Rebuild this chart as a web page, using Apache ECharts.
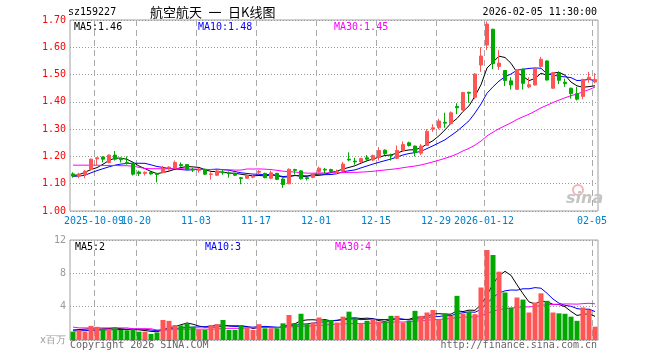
<!DOCTYPE html>
<html>
<head>
<meta charset="utf-8">
<script src="https://cdn.jsdelivr.net/npm/echarts@6/dist/echarts.min.js"></script>
<style>
html,body{margin:0;padding:0;background:#fff;}
#c{width:660px;height:360px;}
</style>
</head>
<body>
<div id="c"></div>
<script>
// ---------- data ----------
const categories = [
'2025-09-25','2025-09-26','2025-09-29','2025-09-30',
'2025-10-09','2025-10-10','2025-10-13','2025-10-14','2025-10-15','2025-10-16','2025-10-17',
'2025-10-20','2025-10-21','2025-10-22','2025-10-23','2025-10-24',
'2025-10-27','2025-10-28','2025-10-29','2025-10-30','2025-10-31',
'2025-11-03','2025-11-04','2025-11-05','2025-11-06','2025-11-07',
'2025-11-10','2025-11-11','2025-11-12','2025-11-13','2025-11-14',
'2025-11-17','2025-11-18','2025-11-19','2025-11-20','2025-11-21',
'2025-11-24','2025-11-25','2025-11-26','2025-11-27','2025-11-28',
'2025-12-01','2025-12-02','2025-12-03','2025-12-04','2025-12-05',
'2025-12-08','2025-12-09','2025-12-10','2025-12-11','2025-12-12',
'2025-12-15','2025-12-16','2025-12-17','2025-12-18','2025-12-19',
'2025-12-22','2025-12-23','2025-12-24','2025-12-25','2025-12-26',
'2025-12-29','2025-12-30','2025-12-31',
'2026-01-05','2026-01-06','2026-01-07','2026-01-08','2026-01-09',
'2026-01-12','2026-01-13','2026-01-14','2026-01-15','2026-01-16',
'2026-01-19','2026-01-20','2026-01-21','2026-01-22','2026-01-23',
'2026-01-26','2026-01-27','2026-01-28','2026-01-29','2026-01-30',
'2026-02-02','2026-02-03','2026-02-04','2026-02-05'
];
const tickDates  = ['2025-10-09','2025-10-20','2025-11-03','2025-11-17','2025-12-01','2025-12-15','2025-12-29','2026-01-12','2026-02-05'];
const tickLabels = ['2025-10-09','10-20','11-03','11-17','12-01','12-15','12-29','2026-01-12','02-05'];

const openVals = [
1.136,1.129,1.134,1.152,1.191,1.198,1.178,1.205,1.193,1.178,
1.175,1.143,1.138,1.141,1.138,1.141,1.158,1.157,1.170,1.170,
1.152,1.149,1.153,1.134,1.131,1.143,1.140,1.138,1.122,1.120,
1.124,1.142,1.138,1.120,1.138,1.117,1.100,1.152,1.147,1.122,
1.123,1.145,1.153,1.152,1.140,1.146,1.190,1.183,1.180,1.195,
1.187,1.196,1.223,1.205,1.193,1.222,1.250,1.238,1.212,1.240,
1.300,1.305,1.325,1.320,1.383,1.370,1.435,1.417,1.535,1.608,
1.666,1.530,1.515,1.477,1.446,1.520,1.455,1.462,1.530,1.550,
1.450,1.506,1.472,1.450,1.430,1.420,1.483,1.473];
const closeVals = [
1.128,1.136,1.146,1.190,1.195,1.190,1.205,1.190,1.188,1.174,
1.135,1.137,1.142,1.136,1.134,1.157,1.161,1.178,1.166,1.153,
1.150,1.152,1.135,1.136,1.147,1.140,1.137,1.131,1.119,1.130,
1.126,1.145,1.122,1.140,1.116,1.097,1.153,1.149,1.118,1.119,
1.133,1.157,1.150,1.145,1.145,1.172,1.187,1.180,1.192,1.190,
1.203,1.222,1.210,1.203,1.222,1.244,1.240,1.214,1.238,1.292,
1.305,1.330,1.322,1.360,1.378,1.434,1.432,1.502,1.568,1.685,
1.540,1.542,1.478,1.462,1.517,1.468,1.463,1.520,1.556,1.480,
1.507,1.479,1.467,1.430,1.410,1.482,1.490,1.482];
const highVals = [
1.142,1.140,1.150,1.192,1.197,1.200,1.207,1.220,1.196,1.200,
1.178,1.148,1.145,1.143,1.140,1.165,1.164,1.185,1.178,1.172,
1.158,1.158,1.155,1.142,1.150,1.152,1.145,1.140,1.125,1.133,
1.133,1.150,1.140,1.148,1.140,1.120,1.156,1.155,1.150,1.125,
1.138,1.163,1.158,1.155,1.152,1.180,1.215,1.195,1.195,1.205,
1.207,1.234,1.226,1.210,1.240,1.255,1.254,1.240,1.245,1.300,
1.318,1.338,1.360,1.365,1.395,1.437,1.437,1.505,1.600,1.695,
1.668,1.590,1.516,1.490,1.520,1.522,1.490,1.522,1.565,1.552,
1.510,1.512,1.485,1.452,1.455,1.485,1.510,1.505];
const lowVals = [
1.122,1.120,1.120,1.148,1.168,1.178,1.175,1.185,1.178,1.170,
1.130,1.128,1.130,1.133,1.105,1.138,1.148,1.155,1.162,1.150,
1.143,1.140,1.132,1.115,1.128,1.133,1.122,1.128,1.098,1.118,
1.120,1.135,1.120,1.116,1.113,1.085,1.098,1.134,1.115,1.112,
1.120,1.140,1.138,1.142,1.135,1.144,1.182,1.170,1.176,1.180,
1.183,1.185,1.205,1.185,1.190,1.218,1.236,1.200,1.205,1.238,
1.290,1.300,1.305,1.318,1.355,1.368,1.397,1.410,1.510,1.590,
1.520,1.517,1.458,1.445,1.445,1.445,1.450,1.460,1.525,1.478,
1.448,1.465,1.455,1.412,1.405,1.410,1.470,1.468];
// volume, millions
const volumes = [
1.00,1.17,1.00,1.70,1.58,1.25,1.33,1.41,1.20,1.17,
1.30,1.00,1.00,0.73,0.90,2.40,2.30,1.80,1.75,2.00,
1.60,1.20,1.20,1.80,1.90,2.40,1.20,1.20,1.80,1.50,
1.20,1.90,1.40,1.40,1.40,2.00,3.00,2.00,3.15,1.90,
2.10,2.70,2.40,2.40,2.10,2.80,3.40,2.60,2.00,2.30,
2.50,2.20,2.20,2.90,2.90,2.10,2.30,3.50,2.90,3.30,
3.60,2.50,3.20,2.90,5.30,3.15,3.35,3.10,6.30,10.80,
10.20,8.20,5.70,3.90,5.10,4.85,3.30,4.50,5.60,4.70,
3.30,3.20,3.15,2.80,2.30,3.90,3.60,1.60];

// moving-average values at the start of the window
const ma5Lead  = [1.130,1.133,1.142,1.152];
const ma10Lead = [1.127,1.128,1.131,1.140,1.148,1.155,1.162,1.168,1.172];
const ma30Lead = [1.168,1.168,1.168,1.168,1.168,1.167,1.167,1.167,1.166,1.166,
                  1.164,1.160,1.156,1.155,1.155,1.155,1.155,1.155,1.155,1.154,
                  1.154,1.153,1.152,1.152,1.152,1.151,1.151,1.150,1.150];
const vma5Lead  = [1.20,1.25,1.30,1.35];
const vma10Lead = [1.10,1.10,1.12,1.15,1.18,1.20,1.22,1.24,1.26];
const vma30Lead = [1.55,1.45,1.45,1.45,1.45,1.45,1.45,1.45,1.45,1.45,
                   1.35,1.35,1.35,1.35,1.20,1.20,1.20,1.30,1.30,1.30,
                   1.30,1.30,1.30,1.30,1.30,1.40,1.40,1.40,1.40];

// ---------- helpers ----------
function movingAvg(vals, n, lead) {
  return vals.map((v, i) => {
    if (i < n - 1) return lead[i];
    let s = 0;
    for (let k = i - n + 1; k <= i; k++) s += vals[k];
    return s / n;
  });
}
const ma5 = movingAvg(closeVals, 5, ma5Lead);
const ma10 = movingAvg(closeVals, 10, ma10Lead);
const ma30 = movingAvg(closeVals, 30, ma30Lead);
const vma5 = movingAvg(volumes, 5, vma5Lead);
const vma10 = movingAvg(volumes, 10, vma10Lead);
const vma30 = movingAvg(volumes, 30, vma30Lead);

const RED = '#ff5555', GREEN = '#00a800';
const MONO = 'DejaVu Sans Mono';
const tickIdx = tickDates.map(d => categories.indexOf(d));

const kData = categories.map((c, i) => [openVals[i], closeVals[i], lowVals[i], highVals[i]]);
const volData = volumes.map((v, i) => ({
  value: v,
  itemStyle: { color: closeVals[i] >= openVals[i] ? RED : GREEN }
}));
const last = categories.length - 1;

const chart = echarts.init(document.getElementById('c'), null, { renderer: 'canvas' });

const dotH = { show: true, lineStyle: { color: '#999999', width: 1, type: [1, 2] } };

function maLine(name, data, color, xi, yi) {
  return { name, type: 'line', data, xAxisIndex: xi, yAxisIndex: yi, symbol: 'none',
    lineStyle: { color, width: 1 }, itemStyle: { color }, silent: true, z: 3 };
}
function txt(x, y, text, color, align, font) {
  return { type: 'text', x, y, silent: true, z: 10,
    style: { text, fill: color, font: font || ('10px "' + MONO + '"'), align: align || 'left', verticalAlign: 'middle' } };
}

const option = {
  animation: false,
  backgroundColor: '#ffffff',
  grid: [
    { left: 70, top: 20, width: 528, height: 191, show: true, borderColor: '#a0a0a0', borderWidth: 1, backgroundColor: 'transparent' },
    { left: 70, top: 240, width: 528, height: 100, show: true, borderColor: '#a0a0a0', borderWidth: 1, backgroundColor: 'transparent' }
  ],
  xAxis: [
    { type: 'category', gridIndex: 0, data: categories, boundaryGap: true,
      axisLine: { show: false }, axisTick: { show: false }, axisLabel: { show: false }, splitLine: { show: false } },
    { type: 'category', gridIndex: 1, data: categories, boundaryGap: true,
      axisLine: { show: false }, axisTick: { show: false }, axisLabel: { show: false }, splitLine: { show: false } }
  ],
  yAxis: [
    { type: 'value', gridIndex: 0, min: 1.0, max: 1.7, interval: 0.1,
      axisLine: { show: false }, axisTick: { show: false },
      axisLabel: { color: '#ff0000', fontFamily: MONO, fontSize: 10, margin: 4, formatter: (v) => v.toFixed(2) },
      splitLine: dotH },
    { type: 'value', gridIndex: 1, min: 0, max: 12, interval: 4,
      axisLine: { show: false }, axisTick: { show: false },
      axisLabel: { color: '#999999', fontFamily: MONO, fontSize: 10, margin: 4,
        formatter: (v) => v === 0 ? 'x百万' : String(v) },
      splitLine: dotH }
  ],
  series: [
    { name: 'K', type: 'candlestick', xAxisIndex: 0, yAxisIndex: 0, data: kData, barWidth: 4,
      itemStyle: { color: RED, color0: GREEN, borderColor: RED, borderColor0: GREEN, borderWidth: 1 }, z: 5 },
    maLine('MA5', ma5, '#000000', 0, 0),
    maLine('MA10', ma10, '#0000ff', 0, 0),
    maLine('MA30', ma30, '#ff00ff', 0, 0),
    { name: 'VOL', type: 'bar', xAxisIndex: 1, yAxisIndex: 1, data: volData, barWidth: 5, z: 5 },
    maLine('VMA5', vma5, '#000000', 1, 1),
    maLine('VMA10', vma10, '#0000ff', 1, 1),
    maLine('VMA30', vma30, '#ff00ff', 1, 1)
  ]
};
chart.setOption(option);

// date boundaries, converted through the chart's own axes; dashes drawn as 1px segments
const pt = (g, i, v) => chart.convertToPixel({ xAxisIndex: g, yAxisIndex: g }, [categories[i], v]);
const band = pt(0, 1, 1.7)[0] - pt(0, 0, 1.7)[0];
const extra = [];
tickIdx.forEach((i, k) => {
  const top0 = pt(0, i, 1.7), bot0 = pt(0, i, 1.0);
  const top1 = pt(1, i, 12), bot1 = pt(1, i, 0);
  const x = Math.round(top0[0] - band / 2);
  [[top0[1], bot0[1]], [top1[1], bot1[1]]].forEach(([a, b]) => {
    for (let y = a; y < b; y += 10) {
      extra.push({ type: 'rect', silent: true, z: 1,
        shape: { x: x, y: Math.round(y), width: 1, height: Math.min(6, b - y) },
        style: { fill: '#aaaaaa' } });
    }
  });
  extra.push(txt(x, bot0[1] + 10, tickLabels[k], '#0080cc', 'center'));
});

const texts = [
  txt(68, 12, 'sz159227', '#000'),
  txt(150, 12, '航空航天\u2002一\u2002日K线图', '#000', 'left', '13px "Noto Sans CJK SC"'),
  txt(597, 12, '2026-02-05 11:30:00', '#000', 'right'),
  txt(74, 27, 'MA5:' + ma5[last].toFixed(2), '#000000'),
  txt(198, 27, 'MA10:' + ma10[last].toFixed(2), '#0000ff'),
  txt(334, 27, 'MA30:' + ma30[last].toFixed(2), '#ff00ff'),
  txt(75, 247, 'MA5:' + Math.floor(vma5[last]), '#000000'),
  txt(205, 247, 'MA10:' + Math.floor(vma10[last]), '#0000ff'),
  txt(335, 247, 'MA30:' + Math.floor(vma30[last]), '#ff00ff'),
  txt(70, 345, 'Copyright 2026 SINA.COM', '#666666'),
  txt(597, 345, 'http://finance.sina.com.cn', '#666666', 'right'),
  { type: 'circle', shape: { cx: 578, cy: 190, r: 5 }, silent: true, z: 1,
    style: { fill: 'none', stroke: '#f2b4b4', lineWidth: 2 } },
  txt(566, 199, 'sina', '#c4c4c4', 'left', 'italic bold 16px "DejaVu Sans"')
];
chart.setOption({ graphic: { elements: extra.concat(texts) } });
</script>
</body>
</html>
